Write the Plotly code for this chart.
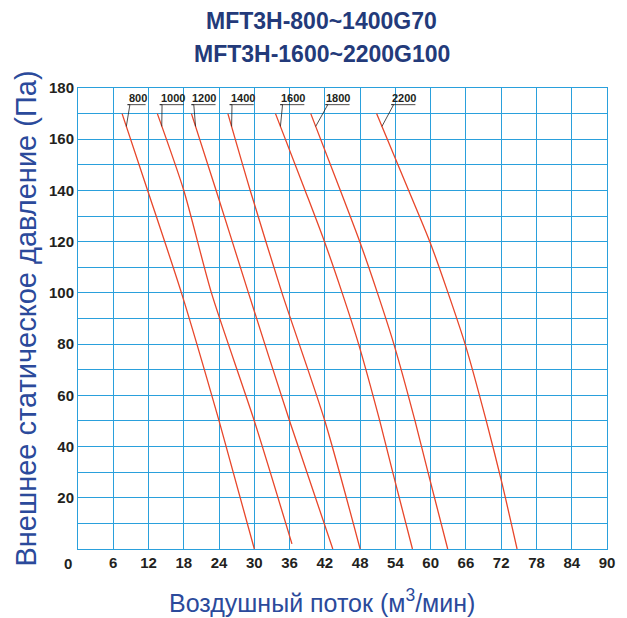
import numpy as np
import plotly.graph_objects as go

# ---- data ----
models = ["800", "1000", "1200", "1400", "1600", "1800", "2200"]

flow_800 = [7.5, 11.85, 17.6, 24.0, 30.0]
pres_800 = [170, 140, 100, 50, 0]

flow_1000 = [13.5, 18.0, 22.7, 30.0, 36.4]
pres_1000 = [170, 140, 100, 50, 2]

flow_1200 = [19.3, 23.5, 29.0, 36.0, 43.35]
pres_1200 = [170, 140, 100, 50, 0]

flow_1400 = [25.5, 29.3, 34.7, 42.0, 48.0]
pres_1400 = [170, 140, 100, 50, 0]

flow_1600 = [33.6, 38.64, 41.94, 44.94, 47.74, 51.34, 53.54, 56.9]
pres_1600 = [170, 140, 120, 100, 80, 50, 30, 0]

flow_1800 = [39.6, 44.64, 47.94, 50.94, 53.74, 57.34, 59.54, 62.9]
pres_1800 = [170, 140, 120, 100, 80, 50, 30, 0]

flow_2200 = [50.8, 56.26, 59.86, 62.96, 65.86, 69.46, 72.1, 74.7]
pres_2200 = [170, 140, 120, 100, 80, 50, 26, 0]

x_ticks = [6, 12, 18, 24, 30, 36, 42, 48, 54, 60, 66, 72, 78, 84, 90]
y_ticks = [20, 40, 60, 80, 100, 120, 140, 160, 180]

title_lines = ["MFT3H-800~1400G70", "MFT3H-1600~2200G100"]
x_title = "Воздушный поток (м<sup>3</sup>/мин)"
y_title = "Внешнее статическое давление (Па)"

# ---- styles ----
CURVE_COLOR = "#e8462a"
GRID_COLOR = "#2aa0dc"
TICK_COLOR = "#231f20"
TITLE_COLOR = "#233a7a"
AXTITLE_COLOR = "#2b4a9b"
FONT = "Liberation Sans, Arial, sans-serif"
LABEL_SIZE = 11
label_left = [8.43, 13.9, 19.3, 25.8, 34.4, 42.1, 53.3]   # label text left edge (data units)
label_y = 173.5            # underline level
leader_y = 165             # where leader meets the curve
PX_PER_X = 537 / 90.0

curves = [
    (flow_800, pres_800), (flow_1000, pres_1000), (flow_1200, pres_1200),
    (flow_1400, pres_1400), (flow_1600, pres_1600), (flow_1800, pres_1800),
    (flow_2200, pres_2200),
]

fig = go.Figure()

for name, (fx, py) in zip(models, curves):
    fig.add_trace(go.Scatter(x=fx, y=py, mode="lines", name=name,
                             line=dict(color=CURVE_COLOR, width=1.3, shape="spline", smoothing=0.7),
                             showlegend=False, hoverinfo="skip"))

annotations = []
for name, (fx, py), lx in zip(models, curves, label_left):
    cx = float(np.interp(leader_y, py[::-1], fx[::-1]))
    w = len(name) * 0.556 * LABEL_SIZE / PX_PER_X
    join = lx + 0.4
    fig.add_trace(go.Scatter(x=[cx, join, lx, lx + w], y=[leader_y, label_y, label_y, label_y],
                             mode="lines", line=dict(color="#231f20", width=0.8),
                             showlegend=False, hoverinfo="skip"))
    annotations.append(dict(x=lx, y=label_y, xref="x", yref="y", text=name,
                            showarrow=False, xanchor="left", yanchor="bottom",
                            borderpad=0,
                            font=dict(family=FONT, size=LABEL_SIZE, color="#231f20", weight="bold")))

# titles
annotations.append(dict(x=0.4609, y=1.1453, xref="paper", yref="paper", text=title_lines[0],
                        showarrow=False, xanchor="center", yanchor="middle",
                        font=dict(family=FONT, size=23, color=TITLE_COLOR, weight="bold")))
annotations.append(dict(x=0.4609, y=1.0744, xref="paper", yref="paper", text=title_lines[1],
                        showarrow=False, xanchor="center", yanchor="middle",
                        font=dict(family=FONT, size=23, color=TITLE_COLOR, weight="bold")))
annotations.append(dict(x=0.4618, y=-0.112, xref="paper", yref="paper", text=x_title,
                        showarrow=False, xanchor="center", yanchor="middle",
                        font=dict(family=FONT, size=25, color=AXTITLE_COLOR)))
# shared corner zero
annotations.append(dict(x=0, y=0, xref="x", yref="y", text="0", showarrow=False,
                        xanchor="center", yanchor="middle", xshift=-10, yshift=-14,
                        font=dict(family=FONT, size=15, color=TICK_COLOR, weight="bold")))

fig.update_layout(
    width=627, height=618,
    margin=dict(l=78, r=12, t=88, b=69),
    paper_bgcolor="white", plot_bgcolor="white",
    annotations=annotations,
    xaxis=dict(range=[0, 90], tickvals=x_ticks, ticks="", showgrid=True,
               gridcolor=GRID_COLOR, gridwidth=1, zeroline=False,
               showline=True, linecolor=GRID_COLOR, linewidth=1, mirror=True,
               tickfont=dict(family=FONT, size=15, color=TICK_COLOR, weight="bold"),
               fixedrange=True),
    yaxis=dict(range=[0, 180], tickvals=y_ticks, ticks="", showgrid=True,
               gridcolor=GRID_COLOR, gridwidth=1, zeroline=False,
               showline=True, linecolor=GRID_COLOR, linewidth=1, mirror=True,
               minor=dict(dtick=10, tick0=0, showgrid=True, gridcolor=GRID_COLOR, gridwidth=1),
               tickfont=dict(family=FONT, size=15, color=TICK_COLOR, weight="bold"),
               title=dict(text=y_title, font=dict(family=FONT, size=29, color=AXTITLE_COLOR),
                          standoff=3),
               automargin=False, fixedrange=True),
)

fig.write_html("out.html")
